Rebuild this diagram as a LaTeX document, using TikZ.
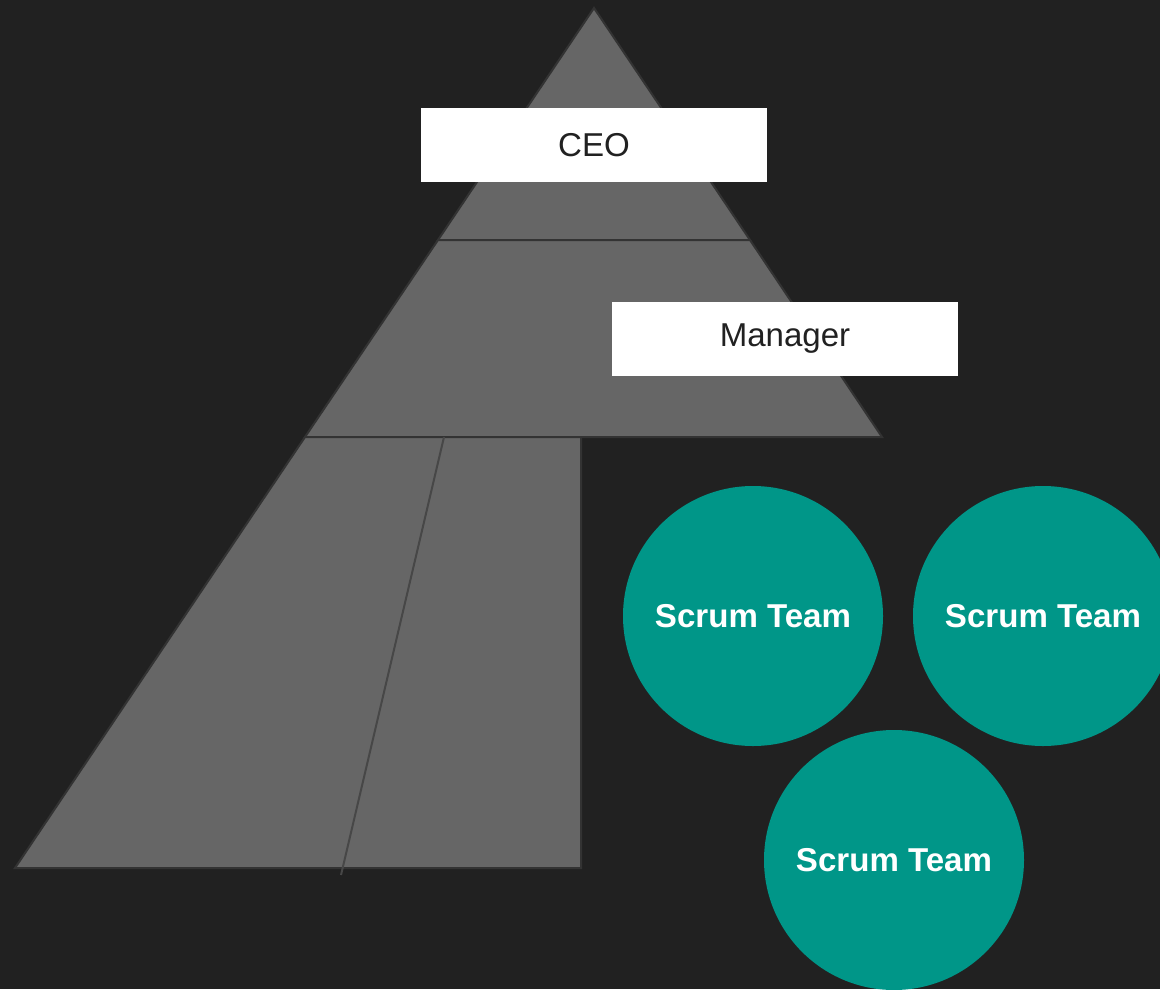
\documentclass[tikz,border=0pt]{standalone}
\usepackage{fontspec}
\setmainfont{Liberation Sans}
\definecolor{bg}{HTML}{212121}
\definecolor{pyr}{HTML}{666666}
\definecolor{pyredge}{HTML}{333333}
\definecolor{divline}{HTML}{474747}
\definecolor{teal}{HTML}{009688}
\definecolor{boxtext}{HTML}{212121}
\begin{document}
\begin{tikzpicture}[x=0.75pt,y=-0.75pt,
  level/.style={fill=pyr,draw=pyredge,line width=1.5pt,line join=miter},
  rolebox/.style={fill=white,minimum width=346*0.75pt,minimum height=74*0.75pt,inner sep=0pt,text=boxtext,font=\fontsize{24.8pt}{28pt}\selectfont},
  team/.style={circle,fill=teal,minimum size=260*0.75pt,inner sep=0pt,text=white,font=\bfseries\fontsize{24.8pt}{28pt}\selectfont}]
\fill[bg] (0,0) rectangle (1160,989);
\useasboundingbox (0,0) rectangle (1160,989);
\clip (0,0) rectangle (1160,989);
% pyramid levels
\draw[level] (594,8) -- (750,240) -- (438,240) -- cycle;
\draw[level] (438,240) -- (750,240) -- (882,437) -- (305,437) -- cycle;
\draw[level] (305,437) -- (581,437) -- (581,868) -- (15,868) -- cycle;
\coordinate (divtop) at (444,437);
\coordinate (divbot) at (341,875);
\draw[divline,line width=1.5pt] (divtop) -- (divbot);
% role boxes
\node[rolebox] (ceo) at (594,145) {CEO};
\node[rolebox] (manager) at (785,339) {Manager};
% scrum teams
\node[team] (team1) at (753,616) {Scrum Team};
\node[team] (team2) at (1043,616) {Scrum Team};
\node[team] (team3) at (894,860) {Scrum Team};
\end{tikzpicture}
\end{document}
